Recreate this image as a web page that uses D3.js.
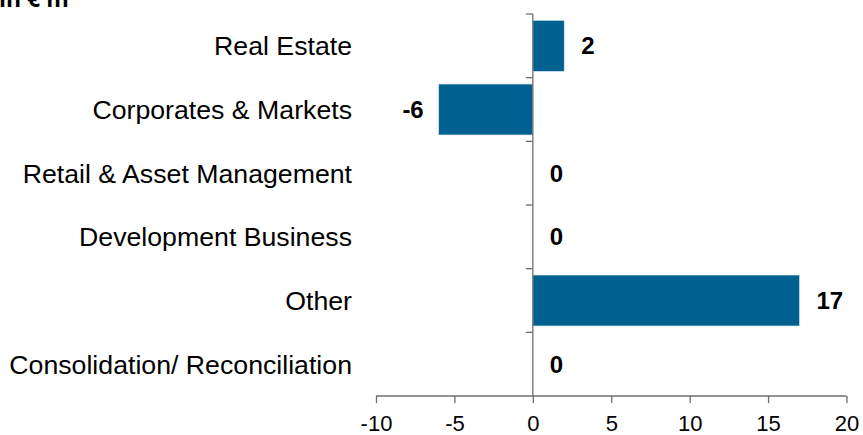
<!DOCTYPE html>
<html>
<head>
<meta charset="utf-8">
<style>
    body { margin: 0; background: white; }
    svg { display: block; font-family: 'Liberation Sans', Arial, sans-serif; }
</style>
</head>
<body>
<svg width="863" height="435"></svg>
<script src="https://d3js.org/d3.v7.min.js"></script>
<script>
    // data
    let categories = ["Real Estate", "Corporates & Markets", "Retail & Asset Management",
        "Development Business", "Other", "Consolidation/ Reconciliation"]
    let values = [2, -6, 0, 0, 17, 0]
    let xTicks = [-10, -5, 0, 5, 10, 15, 20]

    let svg = d3.select("svg")

    let x = d3.scaleLinear()
        .domain([-10, 20])
        .range([376, 846.5])

    let y = d3.scaleBand()
        .domain(categories)
        .range([14, 396])
        .paddingInner(0.2)
        .paddingOuter(0.1)

    // unit label, cut at top edge like the original
    svg.append("text")
        .attr("x", -1)
        .attr("y", 7)
        .style("font-family", "'Open Sans', sans-serif")
        .style("font-weight", "bold")
        .style("font-size", "23px")
        .text("in € m")

    // bars
    svg.selectAll(".bar")
        .data(values)
        .join("rect")
        .attr("class", "bar")
        .attr("x", d => x(Math.min(0, d)))
        .attr("width", d => Math.abs(x(d) - x(0)))
        .attr("y", (d, i) => y(categories[i]))
        .attr("height", y.bandwidth())
        .style("fill", "#00608F")
        .style("stroke", "#cfe3ee")
        .style("stroke-width", 0.6)

    // x axis (plain hyphen for negatives, like the original)
    let xAxis = svg.append("g")
        .attr("transform", "translate(0,396)")
        .call(d3.axisBottom(x).tickValues(xTicks).tickSize(7).tickPadding(12).tickFormat(d => String(d)))
    xAxis.select(".domain").attr("d", "M" + x(-10) + ",0H" + x(20))
    xAxis.selectAll("line, path").style("stroke", "#6e6e6e").style("stroke-width", 1.3)
    xAxis.selectAll("text").style("font-size", "22px").style("fill", "#000")
        .style("font-family", "'Liberation Sans', Arial, sans-serif")

    // y axis at zero, ticks on band boundaries
    let bounds = categories.map(c => y(c) - y.step() * y.paddingInner() / 2)
    bounds[0] = 14
    svg.append("line")
        .attr("x1", x(0)).attr("x2", x(0))
        .attr("y1", 14).attr("y2", 396)
        .style("stroke", "#6e6e6e").style("stroke-width", 1.3)
    svg.selectAll(".ytick")
        .data(bounds)
        .join("line")
        .attr("class", "ytick")
        .attr("x1", x(0) - 7).attr("x2", x(0))
        .attr("y1", d => d).attr("y2", d => d)
        .style("stroke", "#6e6e6e").style("stroke-width", 1.3)

    // category labels
    svg.selectAll(".cat")
        .data(categories)
        .join("text")
        .attr("class", "cat")
        .attr("x", 352)
        .attr("y", d => y(d) + y.bandwidth() / 2)
        .attr("dy", "0.35em")
        .attr("text-anchor", "end")
        .style("font-size", "26.7px")
        .text(d => d)

    // value labels
    svg.selectAll(".val")
        .data(values)
        .join("text")
        .attr("class", "val")
        .attr("x", d => d < 0 ? x(d) - 15 : x(d) + 17)
        .attr("y", (d, i) => y(categories[i]) + y.bandwidth() / 2)
        .attr("dy", "0.35em")
        .attr("text-anchor", d => d < 0 ? "end" : "start")
        .style("font-size", "24px")
        .style("font-weight", "bold")
        .text(d => d)
</script>
</body>
</html>
